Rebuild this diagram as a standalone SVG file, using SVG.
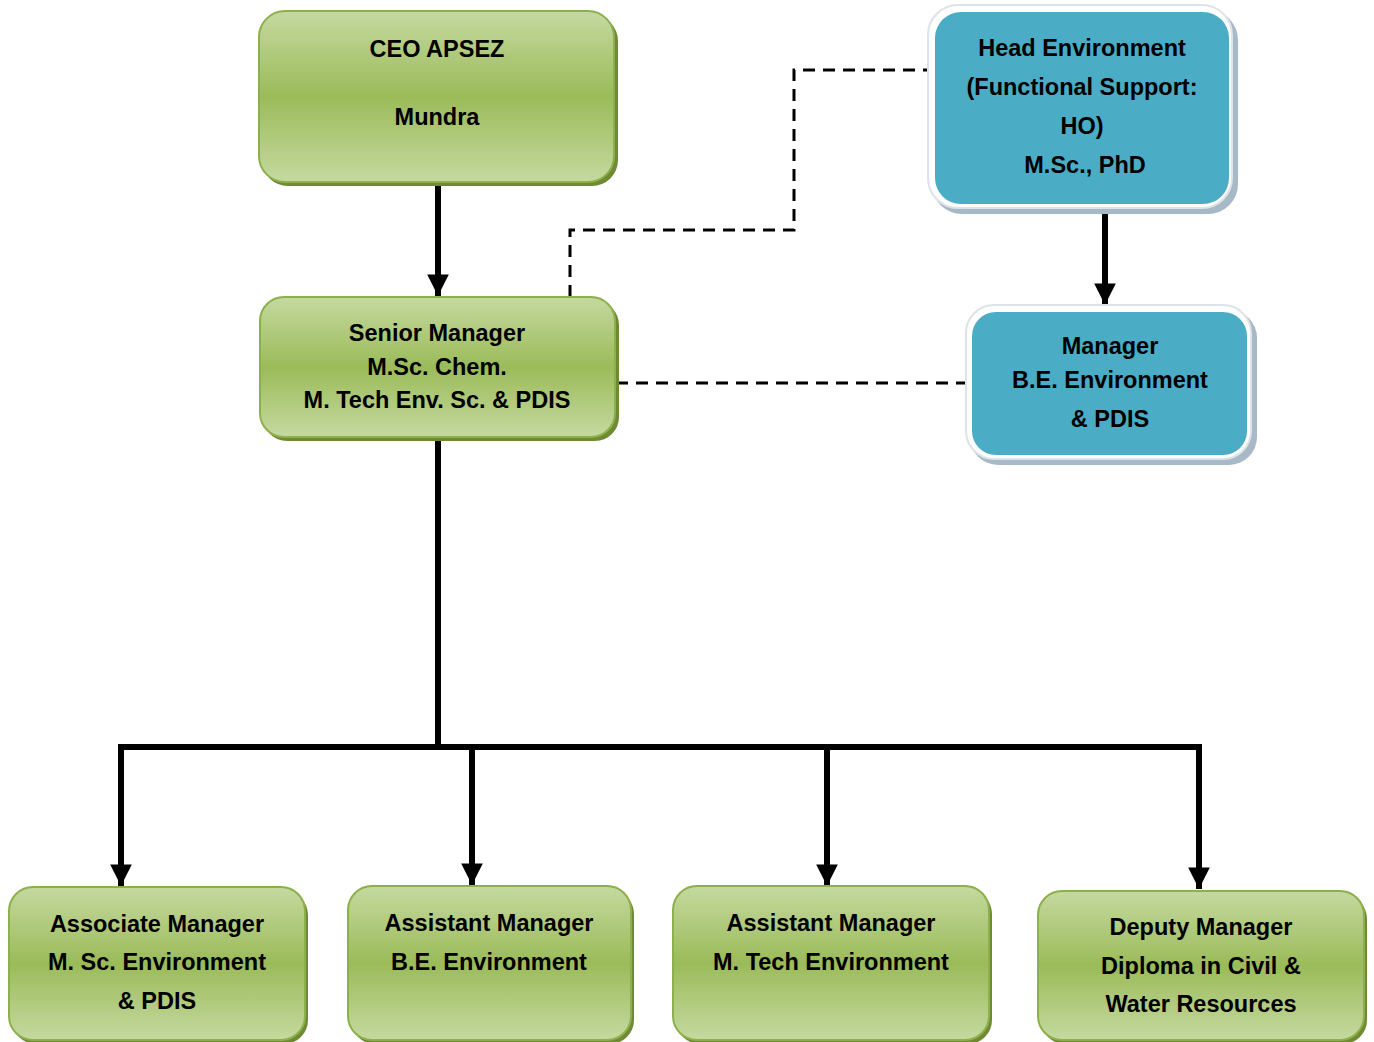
<svg xmlns="http://www.w3.org/2000/svg" width="1374" height="1042" viewBox="0 0 1374 1042">
<defs>
<linearGradient id="g" x1="0" y1="0" x2="0" y2="1">
<stop offset="0" stop-color="#c5d9a0"/>
<stop offset="0.5" stop-color="#9bbb59"/>
<stop offset="1" stop-color="#c5d9a0"/>
</linearGradient>
<marker id="ah" viewBox="0 0 10 10" refX="10" refY="5" markerWidth="3.6" markerHeight="3.6" markerUnits="strokeWidth" orient="auto">
<path d="M0,0 L10,5 L0,10 Z" fill="#000"/>
</marker>
<style>
.sh{fill:#6f8a33;}
.gb{fill:url(#g);stroke:#8cb04a;stroke-width:2;}
.bsh{fill:#a7b8c6;}
.bw{fill:#ffffff;stroke:#dde3e8;stroke-width:2;}
.bb{fill:#4bacc6;}
text{font-family:"Liberation Sans",Arial,sans-serif;font-weight:bold;font-size:23.5px;fill:#000;text-anchor:middle;}
.solid{stroke:#000;stroke-width:6;fill:none;}
.dash{stroke:#000;stroke-width:3;fill:none;stroke-dasharray:12 8;}
</style>
</defs>
<g id="connectors">
<path class="solid" d="M438,183 V296" marker-end="url(#ah)"/>
<path class="solid" d="M1105,213 V305" marker-end="url(#ah)"/>
<path class="dash" d="M570,297 V230 H794 V70 H932"/>
<path class="dash" d="M616,383 H966"/>
<path class="solid" d="M438,438 V747"/>
<path class="solid" d="M118,747 H1201"/>
<path class="solid" d="M121,744 V886" marker-end="url(#ah)"/>
<path class="solid" d="M472,747 V885" marker-end="url(#ah)"/>
<path class="solid" d="M827,747 V886" marker-end="url(#ah)"/>
<path class="solid" d="M1199,744 V889" marker-end="url(#ah)"/>
</g>
<g id="ceo">
<rect class="sh" x="262" y="15" width="356" height="171" rx="26"/>
<rect class="gb" x="259" y="11" width="355" height="171" rx="26"/>
<text x="437" y="57">CEO APSEZ</text>
<text x="437" y="125">Mundra</text>
</g>
<g id="senior">
<rect class="sh" x="263" y="301" width="356" height="140" rx="24"/>
<rect class="gb" x="260" y="297" width="355" height="140" rx="24"/>
<text x="437" y="341">Senior Manager</text>
<text x="437" y="375">M.Sc. Chem.</text>
<text x="437" y="408">M. Tech Env. Sc. &amp; PDIS</text>
</g>
<g id="head">
<rect class="bsh" x="932" y="10" width="306" height="204" rx="30"/>
<rect class="bw" x="928" y="5" width="304" height="203" rx="30"/>
<rect class="bb" x="935" y="12" width="294" height="192" rx="26"/>
<text x="1082" y="56">Head Environment</text>
<text x="1082" y="95">(Functional Support:</text>
<text x="1082" y="134">HO)</text>
<text x="1085" y="173">M.Sc., PhD</text>
</g>
<g id="manager">
<rect class="bsh" x="970" y="310" width="287" height="155" rx="28"/>
<rect class="bw" x="966" y="305" width="285" height="154" rx="28"/>
<rect class="bb" x="972" y="312" width="275" height="143" rx="24"/>
<text x="1110" y="354">Manager</text>
<text x="1110" y="388">B.E. Environment</text>
<text x="1110" y="427">&amp; PDIS</text>
</g>
<g id="associate">
<rect class="sh" x="12" y="891" width="296" height="153" rx="24"/>
<rect class="gb" x="9" y="887" width="296" height="153" rx="24"/>
<text x="157" y="932">Associate Manager</text>
<text x="157" y="970">M. Sc. Environment</text>
<text x="157" y="1009">&amp; PDIS</text>
</g>
<g id="asst1">
<rect class="sh" x="351" y="890" width="283" height="154" rx="24"/>
<rect class="gb" x="348" y="886" width="283" height="154" rx="24"/>
<text x="489" y="931">Assistant Manager</text>
<text x="489" y="970">B.E. Environment</text>
</g>
<g id="asst2">
<rect class="sh" x="676" y="890" width="316" height="154" rx="24"/>
<rect class="gb" x="673" y="886" width="316" height="154" rx="24"/>
<text x="831" y="931">Assistant Manager</text>
<text x="831" y="970">M. Tech Environment</text>
</g>
<g id="deputy">
<rect class="sh" x="1041" y="895" width="326" height="149" rx="24"/>
<rect class="gb" x="1038" y="891" width="326" height="149" rx="24"/>
<text x="1201" y="935">Deputy Manager</text>
<text x="1201" y="974">Diploma in Civil &amp;</text>
<text x="1201" y="1012">Water Resources</text>
</g>
</svg>
